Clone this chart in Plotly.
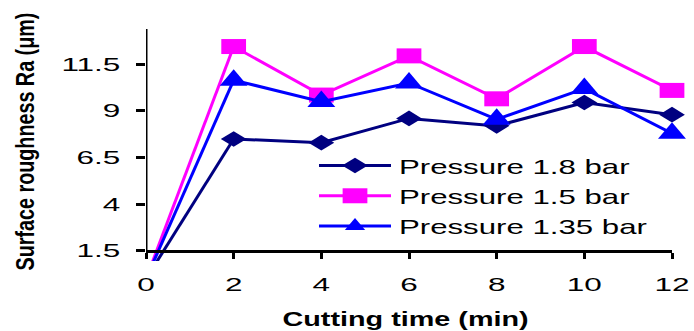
import json
import plotly.graph_objects as go

# ---------------- data ----------------
time_min = [0, 2, 4, 6, 8, 10, 12]
ra_18bar = [0.0, 7.5, 7.3, 8.6, 8.2, 9.45, 8.8]
ra_15bar = [0.0, 12.45, 9.85, 11.95, 9.65, 12.45, 10.1]
ra_135bar = [0.0, 10.65, 9.5, 10.5, 8.55, 10.2, 7.8]
series_names = ["Pressure 1.8 bar", "Pressure 1.5 bar", "Pressure 1.35 bar"]
x_tickvals = [0, 2, 4, 6, 8, 10, 12]
y_tickvals = [1.5, 4, 6.5, 9, 11.5]
y_ticktext = ["1.5", "4", "6.5", "9", "11.5"]
x_title = "Cutting time (min)"
y_title = "Surface roughness Ra (μm)"

# ---------------- style ----------------
colors = ["#000080", "#FF00FF", "#0000FF"]
symbols = ["diamond", "square", "triangle-up"]
msizes = [12, 15, 22]
marker_xscale = [1.65, 1.65, 1.1]

X_RANGE = [0, 12]
Y_RANGE = [0.96, 13.39]
x_axis_pos = (1.5 - Y_RANGE[0]) / (Y_RANGE[1] - Y_RANGE[0])
FONT = "Liberation Sans, Arial, sans-serif"

fig = go.Figure()
pts_scale = []
for name, ys, c, sym, sz, sxs in zip(series_names, [ra_18bar, ra_15bar, ra_135bar],
                                      colors, symbols, msizes, marker_xscale):
    # first segment (from time 0), line only
    fig.add_trace(go.Scatter(x=time_min[:2], y=ys[:2], mode="lines",
                             line=dict(color=c, width=3), showlegend=False,
                             hoverinfo="skip"))
    pts_scale.append(1)
    fig.add_trace(go.Scatter(x=time_min[1:], y=ys[1:], mode="lines+markers", name=name,
                             line=dict(color=c, width=3),
                             marker=dict(symbol=sym, size=sz, color=c, line=dict(width=0)),
                             cliponaxis=False))
    pts_scale.append(sxs)

fig.update_layout(
    width=694, height=331,
    margin=dict(l=146, r=17, t=29, b=70),
    paper_bgcolor="white", plot_bgcolor="white",
    font=dict(family=FONT, color="black"),
    showlegend=True,
    legend=dict(x=0.3194, y=0.4986, xanchor="left", yanchor="top",
                bgcolor="rgba(0,0,0,0)", borderwidth=0,
                font=dict(family=FONT, size=21, color="black"),
                itemwidth=72, tracegroupgap=0),
    xaxis=dict(range=X_RANGE, tickvals=x_tickvals, showgrid=False, zeroline=False,
               showline=True, linecolor="black", linewidth=3,
               ticks="outside", ticklen=6, tickwidth=3, tickcolor="black",
               tickfont=dict(family=FONT, size=18, color="black"),
               anchor="free", position=x_axis_pos, ticklabelstandoff=10),
    yaxis=dict(range=Y_RANGE, tickvals=y_tickvals, ticktext=y_ticktext,
               showgrid=False, zeroline=False, showline=False,
               ticks="outside", ticklen=9, tickwidth=3, tickcolor="black",
               tickfont=dict(family=FONT, size=18, color="black"),
               ticklabelstandoff=12),
    shapes=[dict(type="line", xref="x", yref="y", x0=X_RANGE[0], x1=X_RANGE[0],
                 y0=y_tickvals[0], y1=Y_RANGE[1],
                 line=dict(color="black", width=3), layer="above")],
    annotations=[
        dict(text=x_title, xref="paper", yref="paper", x=0.4925, y=-0.25,
             xanchor="center", yanchor="middle", showarrow=False,
             font=dict(family=FONT, size=20, color="black", weight="bold")),
        dict(text=y_title, xref="paper", yref="paper", x=-0.2315, y=0.515,
             xanchor="center", yanchor="middle", showarrow=False, textangle=-90,
             font=dict(family=FONT, size=25, color="black", weight="bold")),
    ],
)

cfg = dict(xtick=1.75, ytick=1.75, legend=1.486, legdx=3, ann=[1.44, 0.79],
           pts=pts_scale, leg=marker_xscale)

post = """
document.body.style.margin = '0';
document.body.style.padding = '0';
var gd = document.getElementById('{plot_id}');
var CFG = """ + json.dumps(cfg) + """;
function sx(el, s, dx){
  if(!el) return;
  dx = dx || 0;
  var x = parseFloat(el.getAttribute('x')) || 0;
  var tr = el.getAttribute('transform') || '';
  el.setAttribute('transform', tr + ' translate(' + (x + dx) + ',0) scale(' + s + ',1) translate(' + (-x) + ',0)');
}
gd.querySelectorAll('.xtick text').forEach(function(e){ sx(e, CFG.xtick); });
gd.querySelectorAll('.ytick text').forEach(function(e){ sx(e, CFG.ytick); });
gd.querySelectorAll('.legend [clip-path]').forEach(function(e){ e.removeAttribute('clip-path'); });
gd.querySelectorAll('.legendtext').forEach(function(e){ sx(e, CFG.legend, CFG.legdx); });
gd.querySelectorAll('.annotation').forEach(function(a, i){
  var t = a.querySelector('.annotation-text');
  sx(t, CFG.ann[i]);
});
gd.querySelectorAll('.scatterlayer .trace').forEach(function(t, i){
  var s = CFG.pts[i];
  t.querySelectorAll('path.point').forEach(function(p){
    p.setAttribute('transform', (p.getAttribute('transform') || '') + ' scale(' + s + ',1)');
  });
});
gd.querySelectorAll('.legend .traces').forEach(function(t, i){
  var s = CFG.leg[i];
  t.querySelectorAll('.legendpoints path.scatterpts').forEach(function(p){
    p.setAttribute('transform', (p.getAttribute('transform') || '') + ' scale(' + s + ',1)');
  });
});
"""

fig.write_html("out.html", post_script=post, config=dict(displayModeBar=False))
